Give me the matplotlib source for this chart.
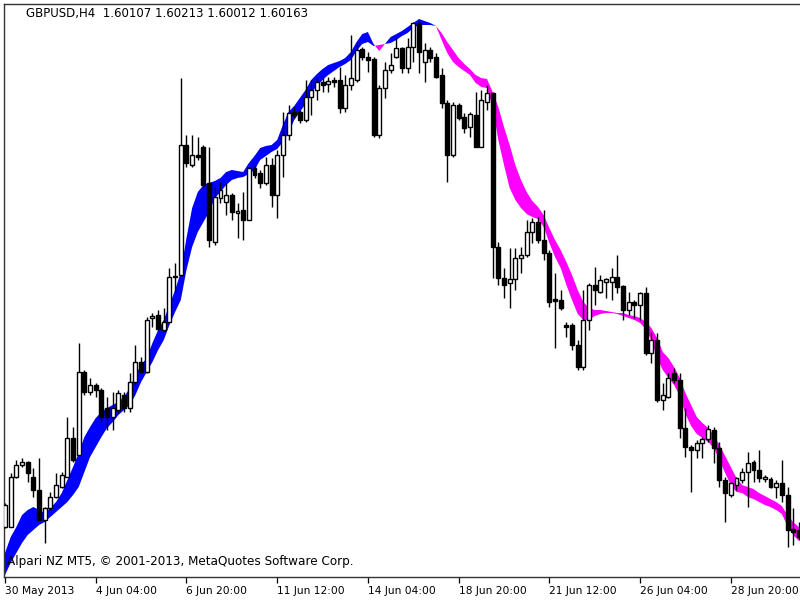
import matplotlib
matplotlib.use("Agg")
import matplotlib.pyplot as plt
import numpy as np

symbol_text = "GBPUSD,H4  1.60107 1.60213 1.60012 1.60163"
copyright_text = "Alpari NZ MT5, \u00a9 2001-2013, MetaQuotes Software Corp."
tick_labels = ["30 May 2013", "4 Jun 04:00", "6 Jun 20:00", "11 Jun 12:00",
               "14 Jun 04:00", "18 Jun 20:00", "21 Jun 12:00", "26 Jun 04:00",
               "28 Jun 20:00"]
bars_per_tick = 16

opens = [1.5073, 1.5073, 1.5123, 1.5135, 1.5138, 1.5123, 1.5110, 1.5080, 1.5092, 1.5103,
         1.5113, 1.5123, 1.5162, 1.5145, 1.5228, 1.5208, 1.5215, 1.5210, 1.5192, 1.5183,
         1.5190, 1.5205, 1.5192, 1.5218, 1.5238, 1.5228, 1.5282, 1.5285, 1.5270, 1.5278,
         1.5323, 1.5325, 1.5455, 1.5435, 1.5445, 1.5453, 1.5417, 1.5358, 1.5402, 1.5398,
         1.5405, 1.5387, 1.5390, 1.5380, 1.5432, 1.5427, 1.5417, 1.5435, 1.5405, 1.5445,
         1.5465, 1.5488, 1.5488, 1.5480, 1.5503, 1.5510, 1.5518, 1.5516, 1.5520, 1.5520,
         1.5492, 1.5515, 1.5520, 1.5551, 1.5543, 1.5541, 1.5465, 1.5512, 1.5530, 1.5543,
         1.5552, 1.5532, 1.5553, 1.5577, 1.5538, 1.5550, 1.5543, 1.5525, 1.5497, 1.5445,
         1.5495, 1.5483, 1.5473, 1.5485, 1.5453, 1.5498, 1.5507, 1.5353, 1.5322, 1.5317,
         1.5321, 1.5342, 1.5345, 1.5368, 1.5378, 1.5360, 1.5347, 1.5301, 1.5300, 1.5275,
         1.5275, 1.5255, 1.5233, 1.5280, 1.5315, 1.5308, 1.5318, 1.5318, 1.5323, 1.5314,
         1.5290, 1.5298, 1.5295, 1.5307, 1.5247, 1.5260, 1.5200, 1.5203, 1.5227, 1.5220,
         1.5172, 1.5153, 1.5150, 1.5157, 1.5161, 1.5170, 1.5152, 1.5120, 1.5105, 1.5115,
         1.5120, 1.5128, 1.5138, 1.5130, 1.5121, 1.5121, 1.5113, 1.5117, 1.5105, 1.5071,
         1.5070]

highs = [1.5097, 1.5127, 1.5140, 1.5142, 1.5139, 1.5132, 1.5142, 1.5093, 1.5108, 1.5127,
         1.5128, 1.5183, 1.5173, 1.5257, 1.5230, 1.5222, 1.5217, 1.5212, 1.5203, 1.5208,
         1.5210, 1.5208, 1.5227, 1.5255, 1.5243, 1.5283, 1.5287, 1.5290, 1.5292, 1.5332,
         1.5337, 1.5522, 1.5465, 1.5465, 1.5463, 1.5455, 1.5453, 1.5413, 1.5418, 1.5417,
         1.5407, 1.5397, 1.5408, 1.5433, 1.5435, 1.5430, 1.5443, 1.5442, 1.5450, 1.5488,
         1.5495, 1.5493, 1.5490, 1.5520, 1.5520, 1.5523, 1.5522, 1.5523, 1.5523, 1.5533,
         1.5525, 1.5565, 1.5557, 1.5553, 1.5548, 1.5543, 1.5515, 1.5538, 1.5547, 1.5562,
         1.5553, 1.5562, 1.5578, 1.5580, 1.5557, 1.5553, 1.5547, 1.5532, 1.5500, 1.5498,
         1.5497, 1.5487, 1.5488, 1.5508, 1.5510, 1.5515, 1.5508, 1.5358, 1.5332, 1.5352,
         1.5352, 1.5353, 1.5380, 1.5382, 1.5383, 1.5390, 1.5350, 1.5327, 1.5310, 1.5278,
         1.5277, 1.5260, 1.5310, 1.5317, 1.5333, 1.5325, 1.5322, 1.5332, 1.5345, 1.5315,
         1.5308, 1.5300, 1.5308, 1.5313, 1.5268, 1.5267, 1.5217, 1.5227, 1.5232, 1.5227,
         1.5192, 1.5155, 1.5160, 1.5163, 1.5175, 1.5173, 1.5158, 1.5123, 1.5118, 1.5123,
         1.5132, 1.5148, 1.5140, 1.5150, 1.5125, 1.5123, 1.5120, 1.5140, 1.5113, 1.5092,
         1.5078]

lows = [1.5072, 1.5073, 1.5122, 1.5133, 1.5118, 1.5103, 1.5080, 1.5057, 1.5090, 1.5102,
        1.5112, 1.5123, 1.5138, 1.5145, 1.5205, 1.5205, 1.5203, 1.5178, 1.5170, 1.5170,
        1.5187, 1.5188, 1.5188, 1.5215, 1.5227, 1.5227, 1.5273, 1.5270, 1.5269, 1.5278,
        1.5308, 1.5324, 1.5433, 1.5433, 1.5440, 1.5412, 1.5353, 1.5355, 1.5397, 1.5385,
        1.5380, 1.5362, 1.5360, 1.5380, 1.5422, 1.5412, 1.5415, 1.5393, 1.5382, 1.5423,
        1.5460, 1.5482, 1.5477, 1.5478, 1.5485, 1.5500, 1.5508, 1.5508, 1.5513, 1.5487,
        1.5488, 1.5510, 1.5518, 1.5540, 1.5528, 1.5463, 1.5462, 1.5502, 1.5527, 1.5542,
        1.5527, 1.5527, 1.5538, 1.5527, 1.5518, 1.5538, 1.5522, 1.5492, 1.5418, 1.5443,
        1.5480, 1.5467, 1.5463, 1.5453, 1.5453, 1.5490, 1.5322, 1.5315, 1.5302, 1.5292,
        1.5310, 1.5327, 1.5343, 1.5357, 1.5357, 1.5340, 1.5293, 1.5252, 1.5290, 1.5263,
        1.5250, 1.5230, 1.5230, 1.5270, 1.5295, 1.5307, 1.5302, 1.5300, 1.5307, 1.5280,
        1.5285, 1.5282, 1.5280, 1.5245, 1.5237, 1.5198, 1.5190, 1.5202, 1.5217, 1.5162,
        1.5143, 1.5108, 1.5142, 1.5142, 1.5158, 1.5137, 1.5113, 1.5078, 1.5103, 1.5110,
        1.5117, 1.5093, 1.5118, 1.5118, 1.5118, 1.5112, 1.5102, 1.5098, 1.5053, 1.5055,
        1.5060]

closes = [1.5095, 1.5123, 1.5135, 1.5138, 1.5127, 1.5110, 1.5080, 1.5092, 1.5103, 1.5115,
          1.5125, 1.5162, 1.5140, 1.5228, 1.5208, 1.5215, 1.5210, 1.5183, 1.5183, 1.5192,
          1.5207, 1.5192, 1.5218, 1.5238, 1.5228, 1.5280, 1.5284, 1.5271, 1.5278, 1.5323,
          1.5324, 1.5455, 1.5437, 1.5445, 1.5443, 1.5415, 1.5360, 1.5403, 1.5410, 1.5405,
          1.5388, 1.5389, 1.5380, 1.5432, 1.5425, 1.5417, 1.5435, 1.5405, 1.5445, 1.5465,
          1.5487, 1.5485, 1.5480, 1.5503, 1.5510, 1.5518, 1.5515, 1.5519, 1.5518, 1.5492,
          1.5515, 1.5522, 1.5550, 1.5543, 1.5540, 1.5465, 1.5512, 1.5530, 1.5535, 1.5552,
          1.5532, 1.5553, 1.5577, 1.5548, 1.5550, 1.5542, 1.5523, 1.5497, 1.5445, 1.5495,
          1.5482, 1.5472, 1.5486, 1.5453, 1.5500, 1.5507, 1.5353, 1.5322, 1.5315, 1.5321,
          1.5342, 1.5345, 1.5368, 1.5378, 1.5360, 1.5347, 1.5298, 1.5299, 1.5292, 1.5273,
          1.5255, 1.5233, 1.5280, 1.5315, 1.5310, 1.5320, 1.5321, 1.5323, 1.5313, 1.5290,
          1.5298, 1.5295, 1.5307, 1.5247, 1.5260, 1.5200, 1.5205, 1.5222, 1.5220, 1.5172,
          1.5153, 1.5150, 1.5157, 1.5161, 1.5171, 1.5152, 1.5120, 1.5107, 1.5117, 1.5122,
          1.5128, 1.5137, 1.5130, 1.5122, 1.5123, 1.5113, 1.5117, 1.5105, 1.5070, 1.5068,
          1.5063]

# two lines of the cloud indicator (fast above slow -> blue, below -> magenta)
fast_line = [1.5047, 1.5063, 1.5073, 1.5085, 1.5090, 1.5093, 1.5090, 1.5087, 1.5092, 1.5098,
             1.5107, 1.5120, 1.5133, 1.5147, 1.5163, 1.5173, 1.5182, 1.5188, 1.5192, 1.5195,
             1.5198, 1.5203, 1.5212, 1.5225, 1.5235, 1.5242, 1.5257, 1.5270, 1.5280, 1.5295,
             1.5310, 1.5328, 1.5362, 1.5392, 1.5408, 1.5415, 1.5417, 1.5419, 1.5422, 1.5428,
             1.5430, 1.5429, 1.5428, 1.5437, 1.5444, 1.5452, 1.5454, 1.5455, 1.5460, 1.5475,
             1.5488, 1.5494, 1.5502, 1.5510, 1.5520, 1.5526, 1.5531, 1.5535, 1.5537, 1.5539,
             1.5542, 1.5548, 1.5558, 1.5566, 1.5568, 1.5556, 1.5549, 1.5556, 1.5563, 1.5566,
             1.5569, 1.5573, 1.5577, 1.5581, 1.5579, 1.5577, 1.5574, 1.5560, 1.5547, 1.5538,
             1.5533, 1.5529, 1.5525, 1.5517, 1.5513, 1.5512, 1.5494, 1.5460, 1.5435, 1.5412,
             1.5400, 1.5392, 1.5386, 1.5383, 1.5381, 1.5373, 1.5357, 1.5343, 1.5332, 1.5315,
             1.5300, 1.5286, 1.5280, 1.5280, 1.5284, 1.5286, 1.5287, 1.5287, 1.5286, 1.5284,
             1.5282, 1.5280, 1.5277, 1.5271, 1.5260, 1.5242, 1.5230, 1.5222, 1.5215, 1.5204,
             1.5186, 1.5174, 1.5166, 1.5162, 1.5158, 1.5152, 1.5140, 1.5127, 1.5115, 1.5108,
             1.5107, 1.5103, 1.5101, 1.5098, 1.5095, 1.5093, 1.5090, 1.5086, 1.5074, 1.5065,
             1.5059]

slow_line = [1.5025, 1.5037, 1.5047, 1.5057, 1.5065, 1.5070, 1.5075, 1.5078, 1.5083, 1.5088,
             1.5093, 1.5098, 1.5105, 1.5113, 1.5128, 1.5143, 1.5153, 1.5163, 1.5172, 1.5178,
             1.5185, 1.5190, 1.5195, 1.5205, 1.5218, 1.5228, 1.5238, 1.5250, 1.5260, 1.5275,
             1.5288, 1.5300, 1.5330, 1.5353, 1.5368, 1.5378, 1.5388, 1.5402, 1.5408, 1.5415,
             1.5420, 1.5422, 1.5423, 1.5426, 1.5430, 1.5440, 1.5444, 1.5448, 1.5451, 1.5458,
             1.5467, 1.5480, 1.5488, 1.5496, 1.5507, 1.5514, 1.5520, 1.5525, 1.5529, 1.5533,
             1.5536, 1.5540, 1.5549, 1.5556, 1.5558, 1.5554, 1.5555, 1.5556, 1.5557, 1.5560,
             1.5564, 1.5567, 1.5572, 1.5575, 1.5575, 1.5575, 1.5574, 1.5567, 1.5558, 1.5550,
             1.5542, 1.5536, 1.5531, 1.5525, 1.5522, 1.5521, 1.5508, 1.5493, 1.5473, 1.5455,
             1.5435, 1.5420, 1.5408, 1.5399, 1.5393, 1.5385, 1.5372, 1.5360, 1.5350, 1.5338,
             1.5325, 1.5310, 1.5298, 1.5292, 1.5290, 1.5290, 1.5289, 1.5288, 1.5287, 1.5287,
             1.5285, 1.5284, 1.5282, 1.5278, 1.5272, 1.5262, 1.5248, 1.5242, 1.5233, 1.5222,
             1.5207, 1.5195, 1.5183, 1.5177, 1.5172, 1.5165, 1.5155, 1.5144, 1.5133, 1.5122,
             1.5115, 1.5113, 1.5111, 1.5107, 1.5104, 1.5101, 1.5098, 1.5094, 1.5085, 1.5078,
             1.5073]

o = np.array(opens); h = np.array(highs); l = np.array(lows); c = np.array(closes)
fast = np.array(fast_line); slow = np.array(slow_line)
x = np.arange(len(o))

fig = plt.figure(figsize=(8, 6), dpi=100)
fig.patch.set_facecolor("white")
ax = fig.add_axes([0.005, 0.03833, 0.995, 0.955])

# cloud
ax.fill_between(x, fast, slow, where=fast >= slow, interpolate=True,
                color="#0000FF", linewidth=0, zorder=1)
ax.fill_between(x, fast, slow, where=fast < slow, interpolate=True,
                color="#FF00FF", linewidth=0, zorder=1)

# candles
ax.vlines(x, l, h, color="black", linewidth=1.0, zorder=2)
up = c >= o
bottom = np.minimum(o, c)
height = np.maximum(np.abs(c - o), 0.00005)
ax.bar(x[up], height[up], bottom=bottom[up], width=0.7, color="white",
       edgecolor="black", linewidth=1.0, zorder=3)
ax.bar(x[~up], height[~up], bottom=bottom[~up], width=0.7, color="black",
       edgecolor="black", linewidth=1.0, zorder=3)

ax.set_xlim(-0.18, 140.2)
ax.set_ylim(1.5023, 1.5596)

ticks = np.arange(0, len(o), bars_per_tick)[:len(tick_labels)]
ax.set_xticks(ticks)
ax.set_xticklabels(tick_labels, ha="left", fontsize=7.7)
ax.tick_params(axis="x", direction="out", length=4.5, width=0.9, pad=1.8,
               colors="black")
ax.set_yticks([])
for side in ["left", "top", "bottom"]:
    ax.spines[side].set_color("#333333")
    ax.spines[side].set_linewidth(1.0)
ax.spines["right"].set_visible(False)

fig.text(26 / 800, 1 - 14 / 600, symbol_text, fontsize=8.5, va="center",
         ha="left", color="black")
fig.text(7 / 800, 1 - 561 / 600, copyright_text, fontsize=8.65, va="center",
         ha="left", color="black")

fig.savefig("out.png", dpi=100)
